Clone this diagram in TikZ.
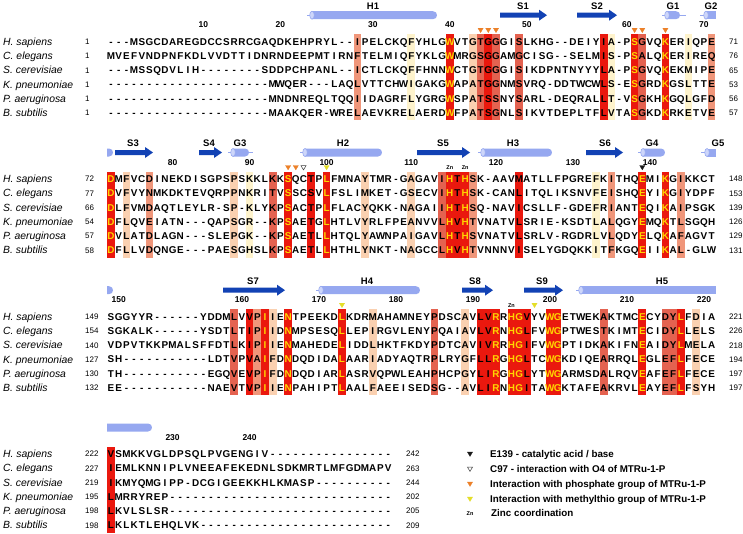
\documentclass[tikz,border=0pt]{standalone}
\usepackage{fontspec}
\setmainfont{Liberation Sans}
\definecolor{espY}{RGB}{234,24,14}
\definecolor{espR}{RGB}{234,24,14}
\definecolor{espr}{RGB}{228,98,80}
\definecolor{esps}{RGB}{240,150,122}
\definecolor{espo}{RGB}{250,208,176}
\definecolor{espy}{RGB}{254,243,204}
\definecolor{seqyellow}{RGB}{255,214,0}
\definecolor{helixc}{RGB}{150,168,240}
\definecolor{helixlt}{RGB}{205,214,250}
\definecolor{strandc}{RGB}{18,66,180}
\definecolor{trior}{RGB}{236,128,40}
\definecolor{triyel}{RGB}{228,222,40}
\tikzset{
  seq/.style={inner sep=0pt, anchor=base, font=\bfseries\fontsize{9.9}{10}\selectfont},
  spname/.style={inner sep=0pt, anchor=base west, font=\itshape\fontsize{10.4}{11}\selectfont},
  numl/.style={inner sep=0pt, anchor=base west, font=\fontsize{8}{9}\selectfont},
  ruler/.style={inner sep=0pt, anchor=base, font=\bfseries\fontsize{8.5}{9}\selectfont},
  sslabel/.style={inner sep=0pt, anchor=base, font=\bfseries\fontsize{9.5}{10}\selectfont},
  znlab/.style={inner sep=0pt, anchor=base, font=\bfseries\fontsize{5.5}{6}\selectfont},
  legtext/.style={inner sep=0pt, anchor=base west, font=\bfseries\fontsize{9.8}{11}\selectfont},
  tblack/.style={fill=black!90, draw=black!90, line width=0.3pt},
  topen/.style={fill=white, draw=black!75, line width=0.5pt},
  torange/.style={fill=trior, draw=trior, line width=0.3pt},
  tyellow/.style={fill=triyel, draw=triyel, line width=0.3pt},
}
\makeatletter
\newcount\colk
\newcount\nid
\newcommand\seqline[6]{%
  \global\advance\nid by 1
  \node[spname] (sp\the\nid) at (3,{#1+3.7}) {#2};
  \node[numl] (st\the\nid) at (85,{#1+2.9}) {#3};
  \node[numl] (en\the\nid) at (#5,{#1+2.9}) {#4};
  \colk=0
  \@tfor\sq@ch:=#6\do{%
    \advance\colk by 1
    \ifcsname Ycol@\the\colk\endcsname\def\sq@c{seqyellow}\else\def\sq@c{black}\fi
    \node[seq,text=\sq@c] (c\the\nid-\the\colk) at ({111+(\the\colk-1)*7.7},{#1+3.5}) {\sq@ch};%
  }%
}
\newcommand\setYcols[1]{\@for\yc@tmp:=#1\do{\expandafter\def\csname Ycol@\yc@tmp\endcsname{}}}
\makeatother
\newcommand\hlband[2]{\foreach \k/\c in {#2}{\fill[fill=esp\c] ({111+(\k-1)*7.7-3.85},{#1-7.5}) rectangle ++(7.7,86.25);}}
\newcommand\tri[3]{\filldraw[#3] ({#1-2.6},{#2-2}) -- ({#1+2.6},{#2-2}) -- ({#1},{#2+2.4}) -- cycle;}
\newcommand\ctri[3]{\tri{111+(#1-1)*7.7}{#2}{#3}}
\newcommand\zn[2]{\node[znlab] at ({111+(#1-1)*7.7},{#2+2}) {Zn};}
\newcommand\rul[3]{\node[ruler] at ({111+(#2-1)*7.7},{#3+3}) {#1};}
\newcommand\strand[3]{\fill[strandc] ({#1},{#3-2.5}) -- ({#2-8},{#3-2.5}) -- ({#2-8},{#3-5.5}) -- ({#2},{#3}) -- ({#2-8},{#3+5.5}) -- ({#2-8},{#3+2.5}) -- ({#1},{#3+2.5}) -- cycle;}
% helix with tail, left ellipse and rounded right end
\newcommand\helix[3]{%
  \draw[helixc,line width=1pt] ({#1-5},{#3}) -- ({#1},{#3});
  \fill[helixc] ({#1},{#3-4}) -- ({#2-4},{#3-4}) .. controls ({#2+1.3},{#3-4}) and ({#2+1.3},{#3+4}) .. ({#2-4},{#3+4}) -- ({#1},{#3+4}) -- cycle;
  \filldraw[fill=helixlt,draw=helixc,line width=0.6pt] ({#1},{#3}) ellipse [x radius=2.3,y radius=4];}
% helix with flat right end (continues)
\newcommand\helixF[3]{%
  \draw[helixc,line width=1pt] ({#1-5},{#3}) -- ({#1},{#3});
  \fill[helixc] ({#1},{#3-4}) rectangle ({#2},{#3+4});
  \filldraw[fill=helixlt,draw=helixc,line width=0.6pt] ({#1},{#3}) ellipse [x radius=2.3,y radius=4];}
% continuation piece: flat left, rounded right
\newcommand\helixC[3]{%
  \fill[helixc] ({#1},{#3-4}) -- ({#2-4},{#3-4}) .. controls ({#2+1.3},{#3-4}) and ({#2+1.3},{#3+4}) .. ({#2-4},{#3+4}) -- ({#1},{#3+4}) -- cycle;}
% short 3-10 helix with tails: x1 x2 xbodyend y
\newcommand\ghelix[4]{%
  \draw[helixc,line width=1pt] ({#1},{#4}) -- ({#2},{#4});
  \helix{#1+5}{#3}{#4}}
\begin{document}
\begin{tikzpicture}[x=1pt,y=-1pt]
\useasboundingbox (0,0) rectangle (743,533);
\fill[white] (0,0) rectangle (743,533);

% ===================== BLOCK 1 =====================
\begin{scope}
\setYcols{45,69,73}
\hlband{41.7}{33/s,40/y,45/Y,48/o,49/r,50/R,51/r,54/r,65/R,66/y,69/Y,70/r,73/Y,76/y,79/s}
\helix{312}{437}{15.2}
\strand{500}{547}{15.2}
\strand{577}{617}{15.2}
\ghelix{662}{686}{680}{15.2}
\draw[helixc,line width=1pt] (700,15.2) -- (706,15.2);
\fill[helixc] (706,11.2) rectangle (716,19.2);
\filldraw[fill=helixlt,draw=helixc,line width=0.6pt] (706,15.2) ellipse [x radius=2.3,y radius=4];
\node[sslabel] (h1) at (373,9.1) {H1};
\node[sslabel] (s1) at (523,9.1) {S1};
\node[sslabel] (s2) at (597,9.1) {S2};
\node[sslabel] (g1) at (673,9.1) {G1};
\node[sslabel] (g2) at (711,9.1) {G2};
\rul{10}{13}{24.7}\rul{20}{23}{24.7}\rul{30}{35}{24.7}\rul{40}{45}{24.7}\rul{50}{55}{24.7}\rul{60}{68}{24.7}\rul{70}{78}{24.7}
\ctri{49}{30.2}{torange}\ctri{50}{30.2}{torange}\ctri{51}{30.2}{torange}
\ctri{69}{30.2}{torange}\ctri{70}{30.2}{torange}\ctri{73}{30.2}{torange}
\seqline{41.7}{H. sapiens}{1}{71}{729}{---MSGCDAREGDCCSRRCGAQDKEHPRYL--IPELCKQFYHLGWVTGTGGGISLKHG--DEIYIA-PSGVQKERIQPE}
\seqline{55.95}{C. elegans}{1}{76}{729}{MVEFVNDPNFKDLVVDTTIDNRNDEEPMTIRNFTELMIQFYKLGWMRGSGGAMGCISG--SELMIS-PSALQKERIREQ}
\seqline{70.2}{S. cerevisiae}{1}{65}{729}{---MSSQDVLIH--------SDDPCHPANL--ICTLCKQFFHNNWCTGTGGGISIKDPNTNYYYLA-PSGVQKEKMIPE}
\seqline{84.45}{K. pneumoniae}{1}{53}{729}{---------------------MWQER---LAQLVTTCHWIGAKGWAPATGGNMSVRQ-DDTWCWLS-ESGRDKGSLTTE}
\seqline{98.7}{P. aeruginosa}{1}{56}{729}{---------------------MNDNREQLTQQIIDAGRFLYGRGWSPATSSNYSARL-DEQRALLT-VSGKHKGQLGFD}
\seqline{112.95}{B. subtilis}{1}{57}{729}{---------------------MAAKQER-WRELAEVKRELAERDWFPATSGNLSIKVTDEPLTFLVTASGKDKRKETVE}
\end{scope}

% ===================== BLOCK 2 =====================
\begin{scope}
\setYcols{1,24,29,45,47,70,73}
\hlband{179}{1/Y,3/o,6/s,17/o,19/y,22/r,24/Y,27/R,29/Y,34/o,40/o,44/r,45/Y,46/R,47/Y,48/s,54/R,64/y,66/s,70/Y,73/Y,75/s}
\helixC{107}{113}{152.5}
\strand{115}{153}{152.5}
\strand{199}{222}{152.5}
\ghelix{228}{253}{249}{152.5}
\helix{305}{382}{152.5}
\strand{417}{470}{152.5}
\helix{483}{552}{152.5}
\strand{586}{623}{152.5}
\helix{643}{665}{152.5}
\draw[helixc,line width=1pt] (701,152.5) -- (707,152.5);
\fill[helixc] (707,148.5) rectangle (716,156.5);
\filldraw[fill=helixlt,draw=helixc,line width=0.6pt] (707,152.5) ellipse [x radius=2.3,y radius=4];
\node[sslabel] (s3) at (133,146.4) {S3};
\node[sslabel] (s4) at (209,146.4) {S4};
\node[sslabel] (g3) at (240,146.4) {G3};
\node[sslabel] (h2) at (343,146.4) {H2};
\node[sslabel] (s5) at (443,146.4) {S5};
\node[sslabel] (h3) at (513,146.4) {H3};
\node[sslabel] (s6) at (605,146.4) {S6};
\node[sslabel] (g4) at (652,146.4) {G4};
\node[sslabel] (g5) at (718,146.4) {G5};
\rul{80}{9}{162}\rul{90}{19}{162}\rul{100}{29}{162}\rul{110}{40}{162}\rul{120}{51}{162}\rul{130}{61}{162}\rul{140}{71}{162}
\ctri{24}{167.5}{torange}\ctri{25}{167.5}{torange}\ctri{26}{167.5}{topen}\ctri{29}{167.5}{tyellow}\ctri{70}{167.5}{tblack}
\zn{45}{167.5}\zn{47}{167.5}
\seqline{179}{H. sapiens}{72}{148}{729}{DMFVCDINEKDISGPSPSKKLKKSQCTPLFMNAYTMR-GAGAVIHTHSK-AAVMATLLFPGREFKITHQEMIKGIKKCT}
\seqline{193.25}{C. elegans}{77}{153}{729}{DVFVYNMKDKTEVQRPPNKRITVSSCSVLFSLIMKET-GSECVIHTHSK-CANLITQLIKSNVFEISHQEYIKGIYDPF}
\seqline{207.5}{S. cerevisiae}{66}{139}{729}{DLFVMDAQTLEYLR-SP-KLYKPSACTPLFLACYQKK-NAGAIIHTHSQ-NAVICSLLF-GDEFRIANTEQIKAIPSGK}
\seqline{221.75}{K. pneumoniae}{54}{126}{729}{DFLQVEIATN---QAPSGR--KPSAETGLHTLVYRLFPEANVVLHVHTVNATVLSRIE-KSDTLALQGYEMQKTLSGQH}
\seqline{236}{P. aeruginosa}{57}{129}{729}{DVLATDLAGN---SLEPGK--KPSAETLLHTQLYAWNPAIGAVLHTHSVNATVLSRLV-RGDRLVLQDYELQKAFAGVT}
\seqline{250.25}{B. subtilis}{58}{131}{729}{DFLLVDQNGE---PAESGHSLKPSAETLLHTHLYNKT-NAGCCLHVHTVNNNVISELYGDQKKITFKGQEIIKAL-GLW}
\end{scope}

% ===================== BLOCK 3 =====================
\begin{scope}
\setYcols{21,24,31,51,53,54,58,59,70,75}
\hlband{316.7}{17/r,19/R,20/s,21/Y,22/o,24/Y,31/Y,35/o,43/r,47/o,49/R,50/R,51/Y,53/Y,54/Y,55/R,58/Y,59/Y,65/r,70/Y,73/r,74/r,75/Y,77/o}
\helixC{107}{113}{290.2}
\strand{223}{285}{290.2}
\helix{321}{420}{290.2}
\strand{462}{493}{290.2}
\strand{524}{563}{290.2}
\helixF{581}{716}{290.2}
\node[sslabel] (s7) at (253,284.1) {S7};
\node[sslabel] (h4) at (367,284.1) {H4};
\node[sslabel] (s8) at (475,284.1) {S8};
\node[sslabel] (s9) at (542,284.1) {S9};
\node[sslabel] (h5) at (662,284.1) {H5};
\rul{150}{2}{299.7}\rul{160}{18}{299.7}\rul{170}{28}{299.7}\rul{180}{38}{299.7}\rul{190}{48}{299.7}\rul{200}{58}{299.7}\rul{210}{68}{299.7}\rul{220}{78}{299.7}
\ctri{31}{305.2}{tyellow}\ctri{56}{305.2}{tyellow}
\zn{53}{305.2}
\seqline{316.7}{H. sapiens}{149}{221}{729}{SGGYYR------YDDMLVVPIIENTPEEKDLKDRMAHAMNEYPDSCAVLVRRHGVYVWGETWEKAKTMCECYDYLFDIA}
\seqline{330.95}{C. elegans}{154}{226}{729}{SGKALK------YSDTLTIPIIDNMPSESQLLEPIRGVLENYPQAIAVLVRNHGLFVWGPTWESTKIMTECIDYLLELS}
\seqline{345.2}{S. cerevisiae}{140}{218}{729}{VDPVTKKPMALSFFDTLKIPIIENMAHEDELIDDLHKTFKDYPDTCAVIVRRHGIFVWGPTIDKAKIFNEAIDYLMELA}
\seqline{359.45}{K. pneumoniae}{127}{194}{729}{SH-----------LDTVPVAIFDNDQDIDALAARIADYAQTRPLRYGFLLRGHGLTCWGKDIQEARRQLEGLEFLFECE}
\seqline{373.7}{P. aeruginosa}{130}{197}{729}{TH-----------EGQVEVPIFDNDQDIARLASRVQPWLEAHPHCPGYLIRGHGLYTWGARMSDALRQVEAFEFLFECE}
\seqline{387.95}{B. subtilis}{132}{197}{729}{EE-----------NAEVTVPIIENPAHIPTLAALFAEEISEDSG--AVLIRNHGITAWGKTAFEAKRVLEAYEFLFSYH}
\end{scope}

% ===================== BLOCK 4 =====================
\begin{scope}
\hlband{454}{1/R}
\helixC{107}{152}{427.5}
\rul{230}{9}{437}\rul{240}{19}{437}
\seqline{454}{H. sapiens}{222}{242}{406}{VSMKKVGLDPSQLPVGENGIV----------------}
\seqline{468.25}{C. elegans}{227}{263}{406}{IEMLKNNIPLVNEEAFEKEDNLSDKMRTLMFGDMAPV}
\seqline{482.5}{S. cerevisiae}{219}{244}{406}{IKMYQMGIPP-DCGIGEEKKHLKMASP----------}
\seqline{496.75}{K. pneumoniae}{195}{202}{406}{LMRRYREP-----------------------------}
\seqline{511}{P. aeruginosa}{198}{205}{406}{LKVLSLSR-----------------------------}
\seqline{525.25}{B. subtilis}{198}{209}{406}{LKLKTLEHQLVK-------------------------}
\end{scope}

% ===================== LEGEND =====================
\tri{470}{454}{tblack}
\tri{470}{469}{topen}
\tri{470}{484}{torange}
\tri{470}{499}{tyellow}
\node[znlab] (lzn) at (470,515) {Zn};
\node[legtext] (l1) at (490,457.5) {E139 - catalytic acid / base};
\node[legtext] (l2) at (490,472.5) {C97 - interaction with O4 of MTRu-1-P};
\node[legtext] (l3) at (490,487.5) {Interaction with phosphate group of MTRu-1-P};
\node[legtext] (l4) at (490,502.5) {Interaction with methylthio group of MTRu-1-P};
\node[legtext] (l5) at (491,516.5) {Zinc coordination};
\end{tikzpicture}
\end{document}
